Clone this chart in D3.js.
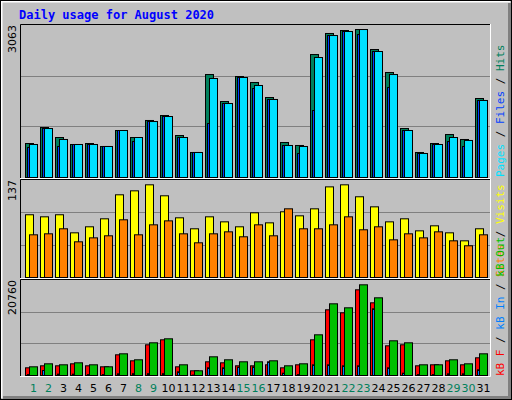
<!DOCTYPE html>
<html><head><meta charset="utf-8">
<script src="https://cdn.jsdelivr.net/npm/d3@7"></script>
<style>body{margin:0;background:#fff}</style></head>
<body><svg id="c" width="512" height="400"></svg>
<script>
const days = d3.range(1, 32);
const weekend = [1,2,8,9,15,16,22,23,29,30];
const hits  = [685,1008,806,665,685,625,947,806,1149,1249,846,504,2075,1531,2035,1914,1612,705,645,2478,2902,2962,2982,2579,2116,987,504,685,866,766,1592];
const files = [605,987,625,665,665,625,947,725,1128,1229,806,504,1088,1491,2015,1793,1572,645,484,1350,2861,2942,2881,2539,1813,947,484,665,725,625,1552];
const pages = [665,987,766,665,665,625,947,806,1128,1229,806,504,1995,1491,2015,1854,1572,645,625,2418,2861,2942,2982,2539,2075,947,484,665,806,746,1552];
const visits = [88.6,85.7,88.6,63.1,71.6,82.9,116.8,122.4,130.9,115.4,84.3,68.8,85.7,78.6,71.6,91.4,77.2,92.8,87.1,97,128,130.9,114,99.8,78.6,82.9,65.9,73,63.1,51.8,68.8];
const sites  = [60.3,61.7,68.8,50.4,56,58.9,81.5,60.3,74.4,80,61.7,49,61.7,64.5,57.5,74.4,58.9,97,68.8,68.8,74.4,85.7,67.4,71.6,53.2,61.7,56,64.5,51.8,44.8,60.3];
const kbF   = [1682,2119,2119,2556,2119,1901,4523,3212,6708,7800,1901,1027,2993,2775,2119,2119,2338,1682,2338,7800,14355,13700,18725,15885,6489,6708,2119,2338,3212,2338,3867];
const kbIn  = [200,1093,300,300,200,200,371,400,400,400,808,100,1682,1682,1814,1901,2993,503,200,2338,2338,2119,2119,14574,1682,503,200,200,371,371,1245];
const kbOut = [1901,2556,2338,2775,2338,1901,4741,3431,7145,8019,2338,1027,4086,3431,2993,2993,3212,2119,2556,8893,15666,14792,19818,16977,7582,7145,2338,2338,3431,2556,4741];
const maxHits = 3063, maxVisits = 137, maxKB = 20760;

const svg = d3.select('#c');
// frame
svg.append('rect').attr('x',0).attr('y',0).attr('width',512).attr('height',400).attr('fill','#c0c0c0');
svg.append('path').attr('d','M1.5,398V1.5H510').attr('stroke','#fff').attr('stroke-width',2).attr('fill','none');
svg.append('path').attr('d','M3,397.5H509.5V3').attr('stroke','#808080').attr('stroke-width',3).attr('fill','none');
svg.append('rect').attr('x',0.5).attr('y',0.5).attr('width',511).attr('height',399).attr('fill','none').attr('stroke','#000');

svg.append('text').attr('x',19).attr('y',19).attr('fill','#0000ff').attr('font-family','DejaVu Sans Mono').attr('font-weight','bold').attr('font-size',12).text('Daily usage for August 2020');

const x = d3.scaleBand().domain(days).range([20,485]).paddingInner(0);
const L = 20, R = 490;
const panels = [
  {top:25, bot:177, max:maxHits, label:'3063'},
  {top:180, bot:277, max:maxVisits, label:'137'},
  {top:280, bot:375, max:maxKB, label:'20760'}
];
panels.forEach(p => {
  p.y = d3.scaleLinear().domain([0,p.max]).range([p.bot,p.top]);
  const h = p.bot - p.top;
  [1/3,2/3].forEach(f => svg.append('line').attr('x1',L).attr('x2',R).attr('y1',Math.round(p.top+h*f)+0.5).attr('y2',Math.round(p.top+h*f)+0.5).attr('stroke','#808080'));
  svg.append('path').attr('d',`M${L+0.5},${p.bot+1}V${p.top-0.5}H${R}`).attr('stroke','#000').attr('fill','none');
  svg.append('path').attr('d',`M${L},${p.bot+1.5}H${R+0.5}V${p.top-1}`).attr('stroke','#fff').attr('fill','none');
  svg.append('text').attr('transform',`translate(16,${p.top}) rotate(-90)`).attr('text-anchor','end').attr('font-family','DejaVu Sans').attr('font-size',11).text(p.label);
});

function bars(p, data, off, w, fill) {
  svg.append('g').selectAll('rect').data(data).join('rect')
    .attr('x',(d,i)=>x(days[i])+5+off+0.5).attr('width',w)
    .attr('y',d=>p.y(d)+0.5).attr('height',d=>Math.max(0,p.bot-p.y(d)))
    .attr('fill',fill).attr('stroke','#000');
}
bars(panels[0], hits, 0, 8, '#00805c');
bars(panels[0], files, 2, 8, '#0040ff');
bars(panels[0], pages, 4, 8, '#00e0ff');
bars(panels[1], visits, 0, 8, '#ffff00');
bars(panels[1], sites, 4, 8, '#ff8000');
bars(panels[2], kbF, 0, 8, '#ff0000');
bars(panels[2], kbIn, 2, 2, '#0080ff');
bars(panels[2], kbOut, 4, 8, '#00c000');

svg.append('g').selectAll('text').data(days).join('text')
  .attr('x',d=>x(d)+x.bandwidth()/2+6).attr('y',392).attr('text-anchor','middle')
  .attr('font-family','DejaVu Sans').attr('font-size',11)
  .attr('fill',d=>weekend.includes(d)?'#00805c':'#000').text(d=>d);

function sideLabel(yb, parts) {
  const t = svg.append('text').attr('transform',`translate(504,${yb}) rotate(-90)`)
    .attr('font-family','DejaVu Sans Mono').attr('font-size',11);
  parts.forEach(([s,c]) => t.append('tspan').attr('fill',c).text(s));
}
sideLabel(177, [['Pages','#00e0ff'],[' / ','#000'],['Files','#0040ff'],[' / ','#000'],['Hits','#00805c']]);
sideLabel(277, [['Sites','#ff8000'],[' / ','#000'],['Visits','#ffff00']]);
sideLabel(376, [['kB F','#ff0000'],[' / ','#000'],['kB In','#0080ff'],[' / ','#000'],['kB Out','#00c000']]);
</script></body></html>
